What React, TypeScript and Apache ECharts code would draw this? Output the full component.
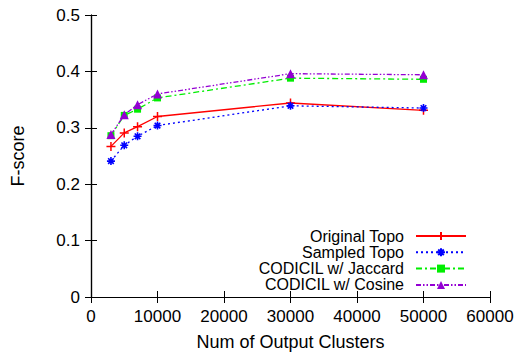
import React, { useEffect, useRef } from "react";
import * as echarts from "echarts";

const clusters = [3000, 5000, 7000, 10000, 30000, 50000];
const originalTopo = [0.267, 0.291, 0.302, 0.320, 0.344, 0.331];
const sampledTopo = [0.241, 0.269, 0.285, 0.304, 0.339, 0.335];
const codicilJaccard = [0.286, 0.322, 0.333, 0.353, 0.388, 0.386];
const codicilCosine = [0.288, 0.323, 0.341, 0.360, 0.396, 0.394];
const seriesNames = ["Original Topo", "Sampled Topo", "CODICIL w/ Jaccard", "CODICIL w/ Cosine"];

const FONT = "Liberation Sans, Arial, Helvetica, sans-serif";

const PLUS = "path://M0,5L10,5M5,0L5,10";
const STAR = "path://M0,5L10,5M5,0L5,10M1.5,1.5L8.5,8.5M1.5,8.5L8.5,1.5";

function pairs(vals: number[]) {
  return clusters.map((c, i) => [c, vals[i]]);
}

export default function App() {
  const ref = useRef<HTMLDivElement>(null);
  useEffect(() => {
    if (!ref.current) return;
    const chart = echarts.init(ref.current, undefined, { renderer: "svg" });
    const axisLine = { show: true, lineStyle: { color: "#000", width: 1.2 } };
    const tick = { show: true, inside: true, length: 6, lineStyle: { color: "#000", width: 1 } };
    chart.setOption({
      animation: false,
      backgroundColor: "#fff",
      textStyle: { fontFamily: FONT },
      grid: { left: 91, right: 27, top: 15, bottom: 58, containLabel: false },
      xAxis: [
        {
          type: "value", min: 0, max: 60000, interval: 10000, position: "bottom",
          axisLine, axisTick: tick, splitLine: { show: false },
          axisLabel: {
            color: "#000", fontSize: 17, fontFamily: FONT, margin: 11,
            formatter: (v: number) => String(v),
          },
          name: "Num of Output Clusters", nameLocation: "middle", nameGap: 36,
          nameTextStyle: { color: "#000", fontSize: 18, fontFamily: FONT },
        },
        {
          type: "value", min: 0, max: 60000, interval: 10000, position: "top",
          axisLine, axisTick: tick, splitLine: { show: false }, axisLabel: { show: false },
        },
      ],
      yAxis: [
        {
          type: "value", min: 0, max: 0.5, interval: 0.1, position: "left",
          axisLine, axisTick: tick, splitLine: { show: false },
          axisLabel: { color: "#000", fontSize: 17, fontFamily: FONT, margin: 11 },
          name: "F-score", nameLocation: "middle", nameGap: 64,
          nameTextStyle: { color: "#000", fontSize: 18, fontFamily: FONT },
        },
        {
          type: "value", min: 0, max: 0.5, interval: 0.1, position: "right",
          axisLine, axisTick: tick, splitLine: { show: false }, axisLabel: { show: false },
        },
      ],
      legend: {
        orient: "vertical", align: "right", right: 50, top: 228, padding: 0,
        itemWidth: 50, itemHeight: 10, itemGap: 0.3,
        textStyle: { color: "#000", fontSize: 16, lineHeight: 16, fontFamily: FONT, padding: [0, 7, 0, 0] },
        data: seriesNames,
      },
      series: [
        {
          name: seriesNames[0], type: "line", data: pairs(originalTopo),
          symbol: PLUS, symbolSize: 9,
          lineStyle: { color: "#ff0000", width: 1.3, type: "solid" },
          itemStyle: { color: "#ff0000", borderColor: "#ff0000", borderWidth: 1.5 },
        },
        {
          name: seriesNames[1], type: "line", data: pairs(sampledTopo),
          symbol: STAR, symbolSize: 8,
          lineStyle: { color: "#0000ff", width: 1.3, type: [2, 3] },
          itemStyle: { color: "#0000ff", borderColor: "#0000ff", borderWidth: 1.6 },
        },
        {
          name: seriesNames[2], type: "line", data: pairs(codicilJaccard),
          symbol: "rect", symbolSize: 7,
          lineStyle: { color: "#00ee00", width: 1.3, type: [6, 3, 2, 3] },
          itemStyle: { color: "#00ee00" },
        },
        {
          name: seriesNames[3], type: "line", data: pairs(codicilCosine),
          symbol: "triangle", symbolSize: 9,
          lineStyle: { color: "#9400d3", width: 1.3, type: [5, 2, 1.5, 2, 1.5, 2] },
          itemStyle: { color: "#9400d3" },
        },
      ],
    });
    return () => chart.dispose();
  }, []);
  return <div ref={ref} style={{ width: 517, height: 356, position: "absolute", left: 0, top: 0 }} />;
}
